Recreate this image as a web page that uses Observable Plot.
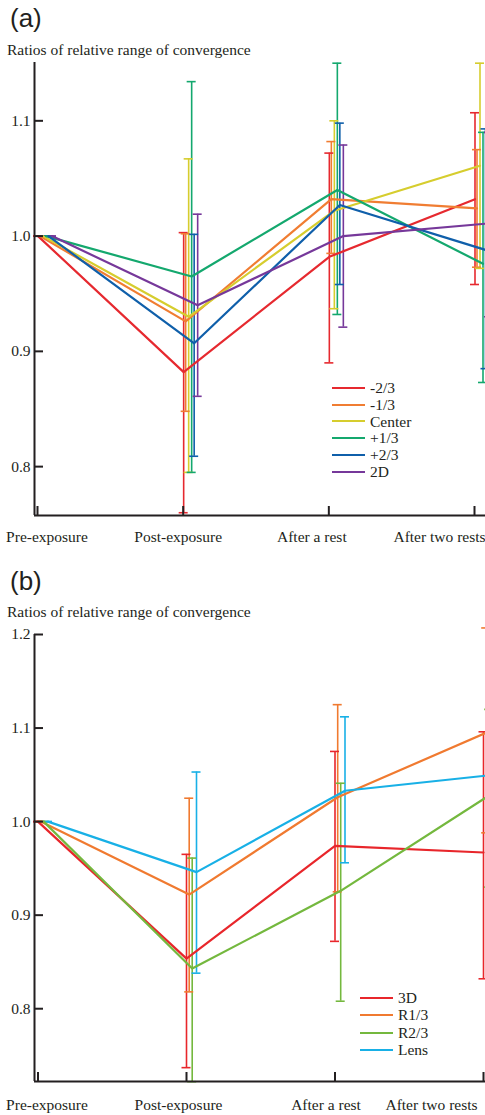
<!DOCTYPE html>
<html><head><meta charset="utf-8">
<script src="https://cdn.jsdelivr.net/npm/d3@7"></script>
<script src="https://cdn.jsdelivr.net/npm/@observablehq/plot@0.6"></script>
<style>
body{margin:0;background:#fff;}
#wrap{position:relative;width:485px;height:1115px;overflow:hidden;background:#fff;}
.lbl{position:absolute;white-space:nowrap;line-height:1;color:#231f20;z-index:3;}
.panel{font-family:"Liberation Sans",Arial,sans-serif;font-size:26px;}
.ytitle{font-family:"Liberation Serif","Times New Roman",serif;font-size:15.5px;}
.chart{position:absolute;left:0;z-index:1;}
.chart svg{background:transparent !important;}
.leg{position:absolute;display:flex;align-items:center;height:18px;font-family:"Liberation Serif","Times New Roman",serif;font-size:15.5px;color:#231f20;line-height:1;z-index:3;}
.leg svg{margin-right:5px;}
</style></head><body>
<div id="wrap">
  <div id="ca" class="chart" style="top:55px"></div>
  <div id="cb" class="chart" style="top:600px"></div>
  <div class="lbl panel" style="left:10px;top:5px">(a)</div>
  <div class="lbl ytitle" style="left:7px;top:41.5px">Ratios of relative range of convergence</div>
  <div id="la"></div>
  <div class="lbl panel" style="left:10px;top:568px">(b)</div>
  <div class="lbl ytitle" style="left:7px;top:604px">Ratios of relative range of convergence</div>
  <div id="lb"></div>
</div>
<script>
// ---------- data ----------
const categories = ["Pre-exposure", "Post-exposure", "After a rest", "After two rests"];

// Panel (a)
const seriesA = ["-2/3", "-1/3", "Center", "+1/3", "+2/3", "2D"];
const colorsA = ["#e6292f", "#f07d32", "#d6cd2e", "#14a86e", "#0f5faa", "#76389a"];
const meanA = [
  [1, 0.882, 0.982, 1.032],
  [1, 0.926, 1.032, 1.024],
  [1, 0.930, 1.022, 1.061],
  [1, 0.965, 1.040, 0.976],
  [1, 0.907, 1.027, 0.988],
  [1, 0.940, 1.000, 1.011]
];
const lowA = [
  [1, 0.760, 0.890, 0.958],
  [1, 0.848, 0.985, 0.973],
  [1, 0.795, 0.937, 0.972],
  [1, 0.795, 0.932, 0.873],
  [1, 0.809, 0.958, 0.885],
  [1, 0.861, 0.921, 0.930]
];
const highA = [
  [1, 1.003, 1.072, 1.107],
  [1, 1.002, 1.082, 1.075],
  [1, 1.067, 1.100, 1.150],
  [1, 1.134, 1.150, 1.090],
  [1, 1.0015, 1.098, 1.093],
  [1, 1.019, 1.079, 1.090]
];
const yTicksA = [0.8, 0.9, 1.0, 1.1];

// Panel (b)
const seriesB = ["3D", "R1/3", "R2/3", "Lens"];
const colorsB = ["#e8262b", "#f07a30", "#74b83e", "#18b0e6"];
const meanB = [
  [1, 0.8535, 0.974, 0.967],
  [1, 0.922, 1.026, 1.095],
  [1, 0.843, 0.926, 1.028],
  [1, 0.946, 1.033, 1.050]
];
const lowB = [
  [1, 0.737, 0.872, 0.832],
  [1, 0.818, 0.925, 0.988],
  [1, 0.722, 0.808, 0.930],
  [1, 0.838, 0.956, 0.970]
];
const highB = [
  [1, 0.965, 1.075, 1.096],
  [1, 1.025, 1.125, 1.207],
  [1, 0.961, 1.041, 1.120],
  [1, 1.053, 1.112, 1.132]
];
const yTicksB = [0.8, 0.9, 1.0, 1.1, 1.2];

// ---------- layout (pixels) ----------
const layoutA = {
  top: 55, height: 500, marginTop: 7, marginBottom: 40,
  xDomain: [-3 / 145.67, 3 + 11 / 145.67], yDomain: [0.7576, 1.1506],
  dodge: [0.5, 2.5, 5.5, 8.5, 11, 14.5],
  labelShift: [9.5, -5, -17, -35], labelDy: 22,
  legend: {x: 332, y: 388, step: 16.7}
};
const layoutB = {
  top: 600, height: 515, marginTop: 34, marginBottom: 34,
  xDomain: [-3.5 / 148.5, 3 + 2 / 148.5], yDomain: [0.7222, 1.2],
  dodge: [0, 2.7, 5.7, 10],
  labelShift: [9, -8, -9, -52], labelDy: 24,
  legend: {x: 360, y: 997.5, step: 17.5}
};

const ink = "#231f20";
const serif = "Liberation Serif, Times New Roman, serif";

function panel(series, colors, mean, low, high, yTicks, L) {
  const W = 485, mL = 34;
  const kx = (W - mL) / (L.xDomain[1] - L.xDomain[0]);          // px per x unit
  const plotH = L.height - L.marginTop - L.marginBottom;
  const ky = plotH / (L.yDomain[1] - L.yDomain[0]);              // px per y unit
  const [x0] = L.xDomain, [y0, y1] = L.yDomain;

  const rows = [];
  series.forEach((s, si) => {
    categories.forEach((c, ci) => {
      rows.push({series: s, color: colors[si], ci,
        x: ci + L.dodge[si] / kx,
        mean: mean[si][ci], lo: low[si][ci], hi: high[si][ci]});
    });
  });
  const capW = 4.5 / kx;
  const caps = rows.flatMap(r => [{...r, v: r.lo}, {...r, v: r.hi}]);

  return Plot.plot({
    width: W, height: L.height,
    marginLeft: mL, marginRight: 0, marginTop: L.marginTop, marginBottom: L.marginBottom,
    x: {type: "linear", domain: L.xDomain, axis: null},
    y: {type: "linear", domain: L.yDomain, axis: null},
    color: {type: "identity"},
    style: {fontFamily: serif, background: "transparent", overflow: "hidden"},
    marks: [
      // error bars
      Plot.ruleX(rows, {x: "x", y1: "lo", y2: "hi", stroke: "color", strokeWidth: 1.6}),
      Plot.ruleY(caps, {y: "v", x1: d => d.x - capW, x2: d => d.x + capW, stroke: "color", strokeWidth: 1.6}),
      // lines
      Plot.line(rows, {x: "x", y: "mean", z: "series", stroke: "color", strokeWidth: 2.2}),
      // y axis
      Plot.ruleX([x0], {y1: y0, y2: y1, stroke: ink, strokeWidth: 2}),
      Plot.ruleY(yTicks, {y: d => d, x1: x0, x2: x0 + 9 / kx, stroke: ink, strokeWidth: 2}),
      Plot.text(yTicks, {x: x0, y: d => d, text: d => d.toFixed(1), textAnchor: "end", dx: -4,
        fontSize: 15.5, fill: ink, fontFamily: serif}),
      // x axis
      Plot.ruleY([y0], {stroke: ink, strokeWidth: 2}),
      Plot.ruleX(categories, {x: (d, i) => i, y1: y0, y2: y0 + 9 / ky, stroke: ink, strokeWidth: 2}),
      Plot.text(categories, {x: (d, i) => i + L.labelShift[i] / kx, y: y0, dy: L.labelDy, text: d => d,
        textAnchor: "middle", fontSize: 15.5, fill: ink, fontFamily: serif})
    ]
  });
}

function legend(el, series, colors, L) {
  series.forEach((s, i) => {
    const d = document.createElement("div");
    d.className = "leg";
    d.style.left = L.legend.x + "px";
    d.style.top = (L.legend.y + i * L.legend.step - 9) + "px";
    d.innerHTML = `<svg width="33" height="4"><line x1="0" x2="33" y1="2" y2="2" stroke="${colors[i]}" stroke-width="2.2"/></svg><span>${s}</span>`;
    el.appendChild(d);
  });
}

document.getElementById("ca").appendChild(panel(seriesA, colorsA, meanA, lowA, highA, yTicksA, layoutA));
document.getElementById("cb").appendChild(panel(seriesB, colorsB, meanB, lowB, highB, yTicksB, layoutB));
legend(document.getElementById("la"), seriesA, colorsA, layoutA);
legend(document.getElementById("lb"), seriesB, colorsB, layoutB);
</script>
</body></html>
